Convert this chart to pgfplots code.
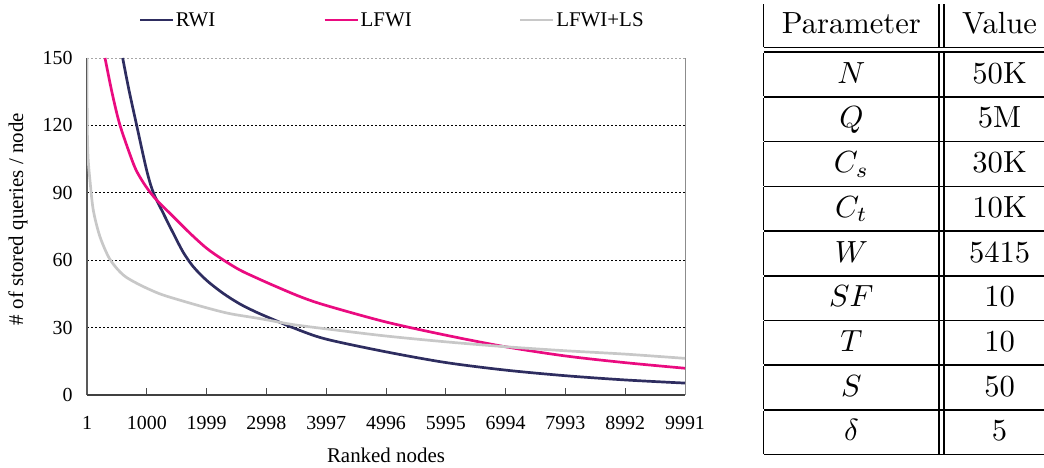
\documentclass[border=0pt]{standalone}
\usepackage{fontspec}
\usepackage{graphicx}
\usepackage{pgfplots}
\pgfplotsset{compat=1.18}
\newfontfamily\tnr{Liberation Serif}
\definecolor{rwi}{HTML}{2E2D60}
\definecolor{lfwi}{HTML}{EA0B80}
\definecolor{lfwils}{HTML}{C8C8C8}
\begin{document}
\begin{tikzpicture}[x=1bp,y=1bp]
\useasboundingbox (0,0) rectangle (1044,468);
\clip (0,0) rectangle (1044,468);
\begin{axis}[
  at={(87bp,73bp)}, anchor=south west,
  scale only axis, width=598bp, height=337bp,
  xmin=1, xmax=9991, ymin=0, ymax=150,
  clip mode=individual,
  axis line style={draw=none},
  /pgf/number format/assume math mode=true,
  tick label style={font=\tnr\fontsize{20}{23}\selectfont},
  label style={font=\tnr\fontsize{21}{24}\selectfont},
  xtick={1,1000,1999,2998,3997,4996,5995,6994,7993,8992,9991},
  xticklabels={1,1000,1999,2998,3997,4996,5995,6994,7993,8992,9991},
  xtick pos=left,
  tick align=inside,
  major tick length=7bp,
  xtick style={black!70, line width=1bp},
  ytick style={draw=none},
  ytick={0,30,60,90,120},
  extra y ticks={150},
  extra y tick style={major tick length=0pt, grid style={black!35, line width=0.8bp, dash pattern=on 1.6bp off 2.4bp}},
  ymajorgrids,
  grid style={black, line width=0.8bp, dash pattern=on 1.6bp off 2.4bp},
  xticklabel style={yshift=-18bp},
  yticklabel style={xshift=-11bp},
  xlabel={Ranked nodes},
  ylabel={\# of stored queries / node},
  xlabel style={at={(axis description cs:0.5,-0.178)}, anchor=center},
  ylabel style={at={(axis description cs:-0.1154,0.522)}, anchor=center},
  legend columns=3,
  legend style={at={(0.0811,1.1128)}, anchor=west, draw=none, fill=none,
    font=\tnr\fontsize{21}{24}\selectfont, nodes={inner sep=1.5bp},
    /tikz/every even column/.append style={column sep=0bp}},
  legend image code/.code={\draw[#1] (0bp,0bp) -- (33bp,0bp);},
]
\draw[black!65, line width=1.3bp] (rel axis cs:0,0) -- (rel axis cs:0,1);
\draw[black!45, line width=1bp] (rel axis cs:1,0) -- (rel axis cs:1,1);
\draw[black!75, line width=1.3bp] (rel axis cs:0,0) -- (rel axis cs:1,0);
\addplot[rwi, line width=2.7bp, smooth, tension=0.5] coordinates {
(597,150) (700,136) (831,120) (997,100.1) (1110,90) (1275,80.9) (1442,72) (1609,63.5)
(1776,57.1) (2000,51) (2278,45.2) (2556,40.5) (2835,36.8) (3113,33.6) (3447,29.9) (3977,25)
(4979,19.3) (5981,14.5) (6984,11.1) (7986,8.6) (8989,6.7) (9991,5.3)};
\addlegendentry{\makebox[146bp][l]{RWI}}
\addplot[lfwi, line width=2.7bp, smooth, tension=0.5] coordinates {
(302,150) (420,134.5) (553,120) (775,103) (885,97) (1020,91.5) (1164,86.8) (1442,79.4) (1721,72)
(2000,65.3) (2278,60.1) (2556,55.6) (2835,52.1) (3113,48.8) (3559,43.8)
(3977,40) (4979,32.6) (5981,26.7) (6984,21.5) (7986,17.4) (8989,14.4) (9991,11.9)};
\addlegendentry{\makebox[157bp][l]{LFWI}}
\addplot[lfwils, line width=2.7bp, smooth, tension=0.5] coordinates {
(1,150) (3,130) (8,115) (20,105) (50,95.7) (106,82.3) (217,70.5) (384,60.4) (607,53.4)
(885,49) (1220,45) (1554,42.2) (2000,38.8) (2389,36.2) (2890,34) (3336,31.8)
(3559,30.9) (3977,29.5) (4979,26.3) (5981,23.7) (6984,21.5) (7986,19.7) (8989,18.2) (9991,16.3)};
\addlegendentry{LFWI+LS}
\end{axis}
\node[anchor=south west, inner sep=0pt] at (763.3,12.3) {\scalebox{3.07}{\renewcommand{\arraystretch}{1.1725}%
\setlength{\arrayrulewidth}{0.55pt}\setlength{\doublerulesep}{1.5pt}%
\begin{tabular}{|c||c|}
Parameter & Value \\
\hline\hline
$N$ & 50K \\ \hline
$Q$ & 5M \\ \hline
$C_s$ & 30K \\ \hline
$C_t$ & 10K \\ \hline
$W$ & 5415 \\ \hline
$SF$ & 10 \\ \hline
$T$ & 10 \\ \hline
$S$ & 50 \\ \hline
$\delta$ & 5 \\ \hline
\end{tabular}}};
\end{tikzpicture}
\end{document}
